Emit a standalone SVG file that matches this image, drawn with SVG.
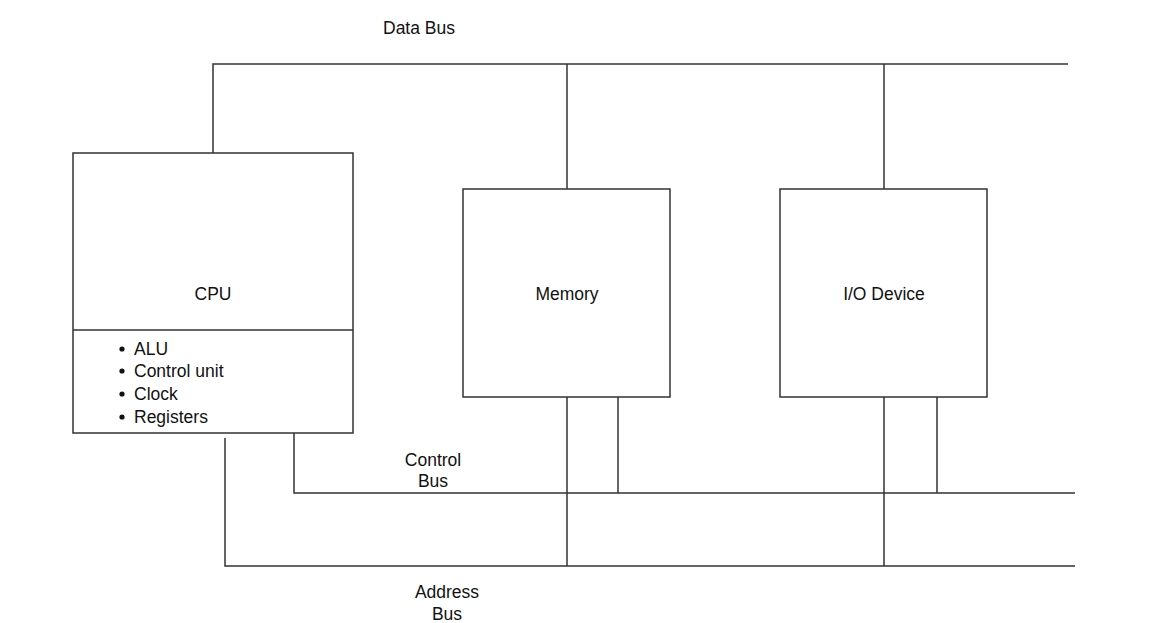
<svg xmlns="http://www.w3.org/2000/svg" width="1168" height="623" viewBox="0 0 1168 623">
<style>
.box{fill:#fff;stroke:#333;stroke-width:1.5}
.ln{fill:none;stroke:#333;stroke-width:1.5}
.dot{fill:#111}
text{font-family:"Liberation Sans",Arial,sans-serif;font-size:17.5px;fill:#111}
.c{text-anchor:middle}
</style>
<rect width="1168" height="623" fill="#fff"/>
<g id="connectors">
<path class="ln" d="M213 153V64H1068"/>
<path class="ln" d="M567 64V189"/>
<path class="ln" d="M884 64V189"/>
<path class="ln" d="M294 433V493H1075"/>
<path class="ln" d="M618 397V493"/>
<path class="ln" d="M937 397V493"/>
<path class="ln" d="M225 438V566H1075"/>
<path class="ln" d="M567 397V566"/>
<path class="ln" d="M884 397V566"/>
</g>
<g id="labels">
<text class="c" x="419" y="34">Data Bus</text>
<text class="c" x="433" y="466">Control</text>
<text class="c" x="433" y="487">Bus</text>
<text class="c" x="447" y="598">Address</text>
<text class="c" x="447" y="620">Bus</text>
</g>
<g id="cpu">
<rect class="box" x="73" y="153" width="280" height="280"/>
<line class="ln" x1="73" y1="330" x2="353" y2="330"/>
<text class="c" x="213" y="300">CPU</text>
<g>
<circle class="dot" cx="122" cy="349" r="2.6"/>
<circle class="dot" cx="122" cy="371" r="2.6"/>
<circle class="dot" cx="122" cy="394" r="2.6"/>
<circle class="dot" cx="122" cy="417" r="2.6"/>
<text x="134" y="355">ALU</text>
<text x="134" y="377">Control unit</text>
<text x="134" y="400">Clock</text>
<text x="134" y="423">Registers</text>
</g>
</g>
<g id="memory">
<rect class="box" x="463" y="189" width="207" height="208"/>
<text class="c" x="567" y="300">Memory</text>
</g>
<g id="io">
<rect class="box" x="780" y="189" width="207" height="208"/>
<text class="c" x="884" y="300">I/O Device</text>
</g>
</svg>
